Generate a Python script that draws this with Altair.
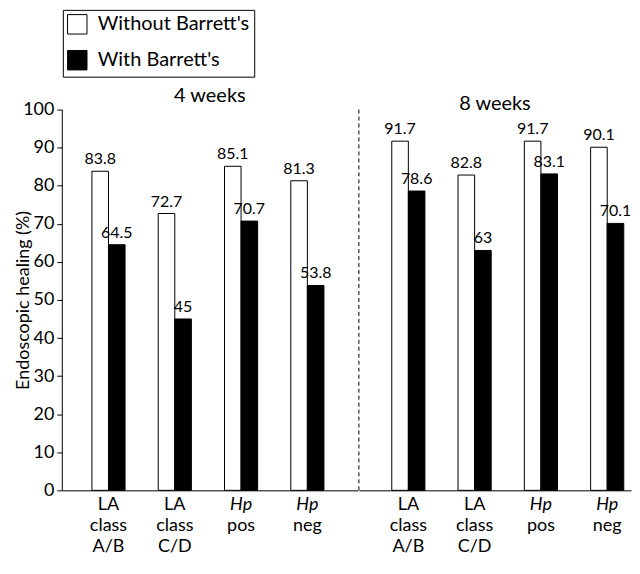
import altair as alt
import pandas as pd

weeks = ["4 weeks", "8 weeks"]
categories = ["LA class A/B", "LA class C/D", "Hp pos", "Hp neg"]
label_top = ["LA", "LA", "Hp", "Hp"]
label_rest = [["class", "A/B"], ["class", "C/D"], ["pos"], ["neg"]]
label_italic = [False, False, True, True]
series = ["Without Barrett's", "With Barrett's"]
without_4 = [83.8, 72.7, 85.1, 81.3]
with_4 = [64.5, 45.0, 70.7, 53.8]
without_8 = [91.7, 82.8, 91.7, 90.1]
with_8 = [78.6, 63.0, 83.1, 70.1]

rows = []
for week, wo, wi in [(weeks[0], without_4, with_4), (weeks[1], without_8, with_8)]:
    for i, c in enumerate(categories):
        rows.append({"week": week, "cat": c, "series": series[0], "value": wo[i]})
        rows.append({"week": week, "cat": c, "series": series[1], "value": wi[i]})
df = pd.DataFrame(rows)
labels = pd.DataFrame({"cat": categories, "top": label_top, "rest": label_rest,
                       "italic": label_italic})

FONT = "Lato"
H = 382
TOP = 100  # distance from legend top to plot top
LINE = 21

legend = alt.Legend(title=None, orient="none", legendX=1, legendY=-TOP,
                    direction="vertical", fillColor="white", strokeColor="black",
                    padding=4, symbolType="square", symbolSize=380,
                    symbolStrokeColor="black", symbolStrokeWidth=1,
                    labelFont=FONT, labelFontSize=20, labelColor="black",
                    rowPadding=11, labelOffset=10, labelLimit=400)


def panel(week, width, po, align, show_y, with_rule):
    xscale = alt.Scale(domain=categories, paddingInner=0.5, paddingOuter=po, align=align)
    x = alt.X("cat:N", scale=xscale,
              axis=alt.Axis(title=None, labels=False, ticks=False, domain=True,
                            domainColor="black", domainWidth=1))
    if show_y:
        yaxis = alt.Axis(title="Endoscopic healing (%)", values=list(range(0, 101, 10)),
                         grid=False, domainColor="black", tickColor="black", tickSize=5,
                         labelFont=FONT, labelFontSize=18, labelColor="black",
                         titleFont=FONT, titleFontSize=18, titleFontWeight="normal",
                         titleColor="black", titleX=-29, titleY=H / 2,
                         titleAngle=270, titleBaseline="bottom", titleAlign="center",
                         labelPadding=3)
    else:
        yaxis = None
    y = alt.Y("value:Q", scale=alt.Scale(domain=[0, 100], nice=False), axis=yaxis)
    xoff = alt.XOffset("series:N", sort=series, scale=alt.Scale(domain=series))
    base = alt.Chart(df).transform_filter(alt.datum.week == week)
    bars = base.mark_bar(stroke="black", strokeWidth=1).encode(
        x=x, xOffset=xoff, y=y,
        color=alt.Color("series:N", sort=series,
                        scale=alt.Scale(domain=series, range=["white", "black"]),
                        legend=legend))
    vals = base.mark_text(baseline="bottom", dy=-4, font=FONT, fontSize=16,
                          color="black").encode(
        x=x, xOffset=xoff, y=y, text=alt.Text("value:Q", format="~g"))
    lab = alt.Chart(labels)
    top_n = lab.transform_filter("!datum.italic").mark_text(
        baseline="top", font=FONT, fontSize=18, color="black").encode(
        x=x, y=alt.value(H + 6), text="top:N")
    top_i = lab.transform_filter("datum.italic").mark_text(
        baseline="top", font=FONT, fontSize=18, fontStyle="italic", color="black").encode(
        x=x, y=alt.value(H + 6), text="top:N")
    rest = lab.mark_text(baseline="top", font=FONT, fontSize=18, lineHeight=LINE,
                         color="black").encode(
        x=x, y=alt.value(H + 6 + LINE), text="rest:N")
    layers = [bars, vals, top_n, top_i, rest]
    if with_rule:
        rule = alt.Chart(pd.DataFrame({"v": [0]})).mark_rule(
            color="black", strokeDash=[4, 3], strokeWidth=1).encode(
            x=alt.value(0), y=alt.value(0), y2=alt.value(H))
        layers.append(rule)
    return alt.layer(*layers).properties(
        width=width, height=H,
        title=alt.TitleParams(week, font=FONT, fontSize=20, fontWeight="normal",
                              color="black", anchor="middle", offset=0, dy=5))


left = panel(weeks[0], 297, 0.483, 0.47, True, False)
right = panel(weeks[1], 273, 0.3026, 0.82, False, True)

chart = alt.hconcat(left, right, spacing=0).properties(
    padding={"left": 7, "right": 0, "top": 0, "bottom": 0},
    autosize=alt.AutoSizeParams(type="pad")).configure_view(stroke=None)

chart.save("out.html", embed_options={"renderer": "svg", "actions": False})
